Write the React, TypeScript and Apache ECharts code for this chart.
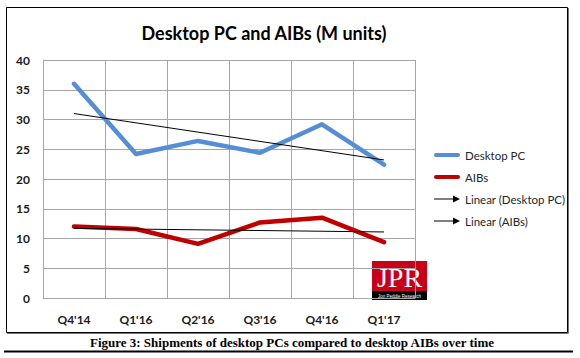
import React, { useEffect, useRef } from "react";
import * as echarts from "echarts";

const categories = ["Q4'14", "Q1'16", "Q2'16", "Q3'16", "Q4'16", "Q1'17"];
const desktopPC = [36.0, 24.2, 26.4, 24.4, 29.2, 22.4];
const aibs = [12.0, 11.6, 9.1, 12.7, 13.5, 9.4];
const trendDesktopPC = [31.0, 23.2];
const trendAIBs = [11.7, 11.1];
const yTicks = { min: 0, max: 40, interval: 5 };

const FONT = "Lato, 'Noto Sans', sans-serif";
const lineIcon = "path://M2,0 H24 A2,2 0 0 1 24,4 H2 A2,2 0 0 1 2,0 Z";
const arrowIcon = "path://M0,3.5 H19 V0.5 L26,4 L19,7.5 V4.5 H0 Z";

export default function App() {
  const ref = useRef<HTMLDivElement>(null);
  useEffect(() => {
    if (!ref.current) return;
    const chart = echarts.init(ref.current, null, { renderer: "svg" });
    const last = categories.length - 1;
    const trend = (name: string, vals: number[]) => ({
      name,
      type: "line",
      data: [],
      color: "#000",
      itemStyle: { color: "#000" },
      z: 5,
      markLine: {
        silent: true,
        symbol: ["none", "arrow"],
        symbolSize: [0, 9],
        label: { show: false },
        lineStyle: { color: "#000", width: 1, type: "solid" },
        emphasis: { disabled: true },
        data: [[{ coord: [0, vals[0]] }, { coord: [last, vals[1]] }]],
      },
    });
    chart.setOption({
      animation: false,
      textStyle: { fontFamily: FONT },
      title: {
        text: "Desktop PC and AIBs (M units)",
        left: 259,
        top: 19,
        textAlign: "center",
        textStyle: { fontFamily: FONT, fontSize: 18, fontWeight: "bold", color: "#000" },
      },
      grid: { left: 43, right: 165, top: 60, bottom: 60, containLabel: false },
      xAxis: {
        type: "category",
        data: categories,
        boundaryGap: true,
        axisTick: { show: false },
        axisLine: { lineStyle: { color: "#a6a6a6", width: 1 } },
        splitLine: { show: true, interval: 0, lineStyle: { color: "#a6a6a6", width: 1 } },
        axisLabel: { color: "#1a1a1a", fontWeight: "bold", fontSize: 12, margin: 15, fontFamily: FONT },
      },
      yAxis: {
        type: "value",
        min: yTicks.min,
        max: yTicks.max,
        interval: yTicks.interval,
        axisLine: { show: true, lineStyle: { color: "#a6a6a6", width: 1 } },
        axisTick: { show: false },
        splitLine: { lineStyle: { color: "#a6a6a6", width: 1 } },
        axisLabel: { color: "#1a1a1a", fontWeight: "bold", fontSize: 12, margin: 13, fontFamily: FONT },
      },
      legend: {
        orient: "vertical",
        left: 429,
        top: 144,
        itemWidth: 26,
        itemHeight: 8,
        itemGap: 10,
        selectedMode: false,
        textStyle: { fontFamily: FONT, fontSize: 11.5, color: "#262626" },
        data: [
          { name: "Desktop PC", icon: lineIcon },
          { name: "AIBs", icon: lineIcon },
          { name: "Linear (Desktop PC)", icon: arrowIcon },
          { name: "Linear (AIBs)", icon: arrowIcon },
        ],
      },
      series: [
        {
          name: "Desktop PC",
          type: "line",
          data: desktopPC,
          color: "#558ed5",
          symbol: "none",
          lineStyle: { color: "#558ed5", width: 4.5, cap: "round", join: "round" },
          z: 2,
        },
        {
          name: "AIBs",
          type: "line",
          data: aibs,
          color: "#c00000",
          symbol: "none",
          lineStyle: { color: "#c00000", width: 4.5, cap: "round", join: "round" },
          z: 2,
        },
        trend("Linear (Desktop PC)", trendDesktopPC),
        trend("Linear (AIBs)", trendAIBs),
      ],
      graphic: [
        {
          type: "rect",
          shape: { x: 6.5, y: 7.5, width: 561, height: 325 },
          style: { fill: "none", stroke: "#000", lineWidth: 1 },
          silent: true,
        },
        {
          type: "polyline",
          shape: { points: [[568.5, 8], [568.5, 333.5], [7, 333.5]] },
          style: { fill: "none", stroke: "#777", lineWidth: 1 },
          silent: true,
        },
        {
          type: "group",
          left: 372,
          top: 261,
          children: [
            { type: "rect", shape: { x: 0, y: 0, width: 55, height: 30 }, style: { fill: "#c8001a" } },
            { type: "rect", shape: { x: 0, y: 30, width: 55, height: 9 }, style: { fill: "#000" } },
            {
              type: "text",
              x: 27.5,
              y: 16,
              style: {
                text: "JPR",
                fill: "#fff",
                font: "28px 'Liberation Serif', serif",
                textAlign: "center",
                textVerticalAlign: "middle",
              },
            },
            {
              type: "text",
              x: 27.5,
              y: 34.5,
              scaleX: 0.75,
              style: {
                text: "Jon Peddie Research",
                fill: "#fff",
                font: "6px 'Liberation Sans Narrow', 'Liberation Sans', sans-serif",
                textAlign: "center",
                textVerticalAlign: "middle",
              },
            },
          ],
        },
        {
          type: "text",
          x: 292,
          y: 342,
          style: {
            text: "Figure 3: Shipments of desktop PCs compared to desktop AIBs over time",
            fill: "#000",
            font: "bold 13px 'Liberation Serif', 'Times New Roman', serif",
            textAlign: "center",
            textVerticalAlign: "middle",
          },
        },
        {
          type: "line",
          shape: { x1: 4, y1: 351.5, x2: 573, y2: 351.5 },
          style: { stroke: "#000", lineWidth: 2 },
        },
      ],
    });
    return () => chart.dispose();
  }, []);
  return (
    <div
      ref={ref}
      style={{ position: "absolute", left: 0, top: 0, width: 580, height: 358, background: "#fff" }}
    />
  );
}
